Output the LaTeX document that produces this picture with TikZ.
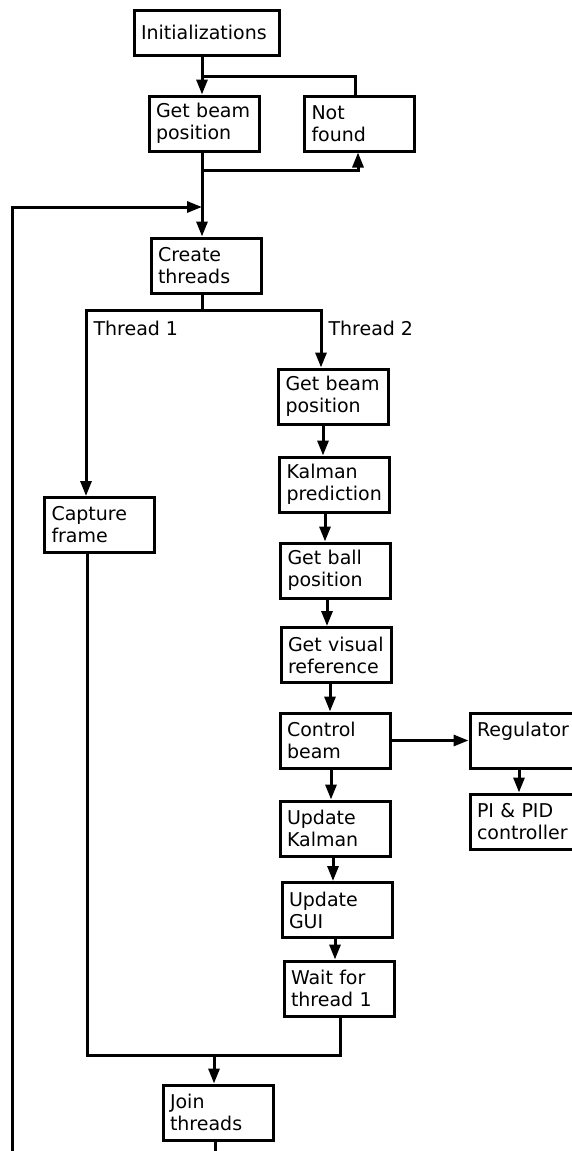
\documentclass[tikz,border=0pt]{standalone}
\usepackage{fontspec}
\setmainfont{DejaVu Sans}
\usetikzlibrary{arrows.meta}
\begin{document}
\begin{tikzpicture}[x=.5pt,y=-.5pt,line width=1.5pt,
  >={Triangle[length=7.5pt,width=5.5pt]},
  blk/.style={draw,rectangle,align=left,text width=48pt,inner xsep=3.5pt,
    minimum width=55pt,minimum height=27.5pt,font=\fontsize{9.5}{11}\selectfont},
  lbl/.style={anchor=west,inner sep=0pt,font=\fontsize{9.5}{11}\selectfont}]
\useasboundingbox (0,0) rectangle (572,1151);
\clip (0,0) rectangle (572,1151);
% start
\node[blk,text width=65.5pt,minimum width=72.5pt,minimum height=22.5pt] (init) at (206.5,32.5) {Initializations};
\node[blk] (gbp) at (204,123.5) {Get beam\\position};
\node[blk] (nf) at (359.5,123.5) {Not\\found};
\node[blk] (create) at (206,265.5) {Create\\threads};
% thread 1
\node[blk] (capture) at (99.5,525) {Capture\\frame};
% thread 2
\node[blk] (gbp2) at (333.5,396.5) {Get beam\\position};
\node[blk] (kal) at (334.5,484.5) {Kalman\\prediction};
\node[blk] (ball) at (335.5,570.5) {Get ball\\position};
\node[blk] (vis) at (336,655) {Get visual\\reference};
\node[blk] (ctrl) at (335,740.5) {Control\\beam};
\node[blk] (reg) at (525,740.5) {Regulator\\\mbox{}};
\node[blk] (pid) at (525,821.5) {PI \& PID\\controller};
\node[blk] (updk) at (335,828.5) {Update\\Kalman};
\node[blk] (gui) at (337,910) {Update\\GUI};
\node[blk] (wait) at (339,988.5) {Wait for\\thread 1};
\node[blk] (join) at (218,1112.5) {Join\\threads};
\node[lbl] (t1) at (92,328) {Thread 1};
\node[lbl] (t2) at (327,328) {Thread 2};
% junctions
\coordinate (j1) at (202,76);
\coordinate (j2) at (202,170);
\coordinate (j3) at (202,207);
\coordinate (br) at (202,310);
\coordinate (jn) at (214,1055);
\coordinate (lp) at (12,1170);
% main line
\draw[->] (init.south -| j1) -- (gbp.north -| j1);
\draw (j1) -| ([xshift=-2.25pt]nf.north);
\draw[->] (j2) -| ([xshift=-.75pt]nf.south);
\draw[->] (gbp.south -| j2) -- (create.north -| j3);
\draw[->] (lp) |- (j3);
\draw (create.south -| br) -- (br);
\draw[->] (br) -| ([xshift=-6.75pt]capture.north);
\draw[->] (br) -| ([xshift=-6.25pt]gbp2.north);
% thread 2 chain
\draw[->] ([xshift=-5.25pt]gbp2.south) -- ([xshift=-5.25pt]gbp2.south |- kal.north);
\draw[->] ([xshift=-4.75pt]kal.south) -- ([xshift=-4.75pt]kal.south |- ball.north);
\draw[->] ([xshift=-4.25pt]ball.south) -- ([xshift=-4.25pt]ball.south |- vis.north);
\draw[->] ([xshift=-3pt]vis.south) -- ([xshift=-3pt]vis.south |- ctrl.north);
\draw[->] (ctrl.east) -- (reg.west);
\draw[->] ([xshift=-3pt]reg.south) -- ([xshift=-3pt]reg.south |- pid.north);
\draw[->] ([xshift=-2pt]ctrl.south) -- ([xshift=-2pt]ctrl.south |- updk.north);
\draw[->] ([xshift=-1pt]updk.south) -- ([xshift=-1pt]updk.south |- gui.north);
\draw[->] ([xshift=-1pt]gui.south) -- ([xshift=-1pt]gui.south |- wait.north);
% join
\draw ([xshift=-6.25pt]capture.south) |- (jn);
\draw ([xshift=.5pt]wait.south) |- (jn);
\draw[->] (jn) -- (jn |- join.north);
\draw ([xshift=-1.5pt]join.south) -- ++(0,30);
\end{tikzpicture}
\end{document}
